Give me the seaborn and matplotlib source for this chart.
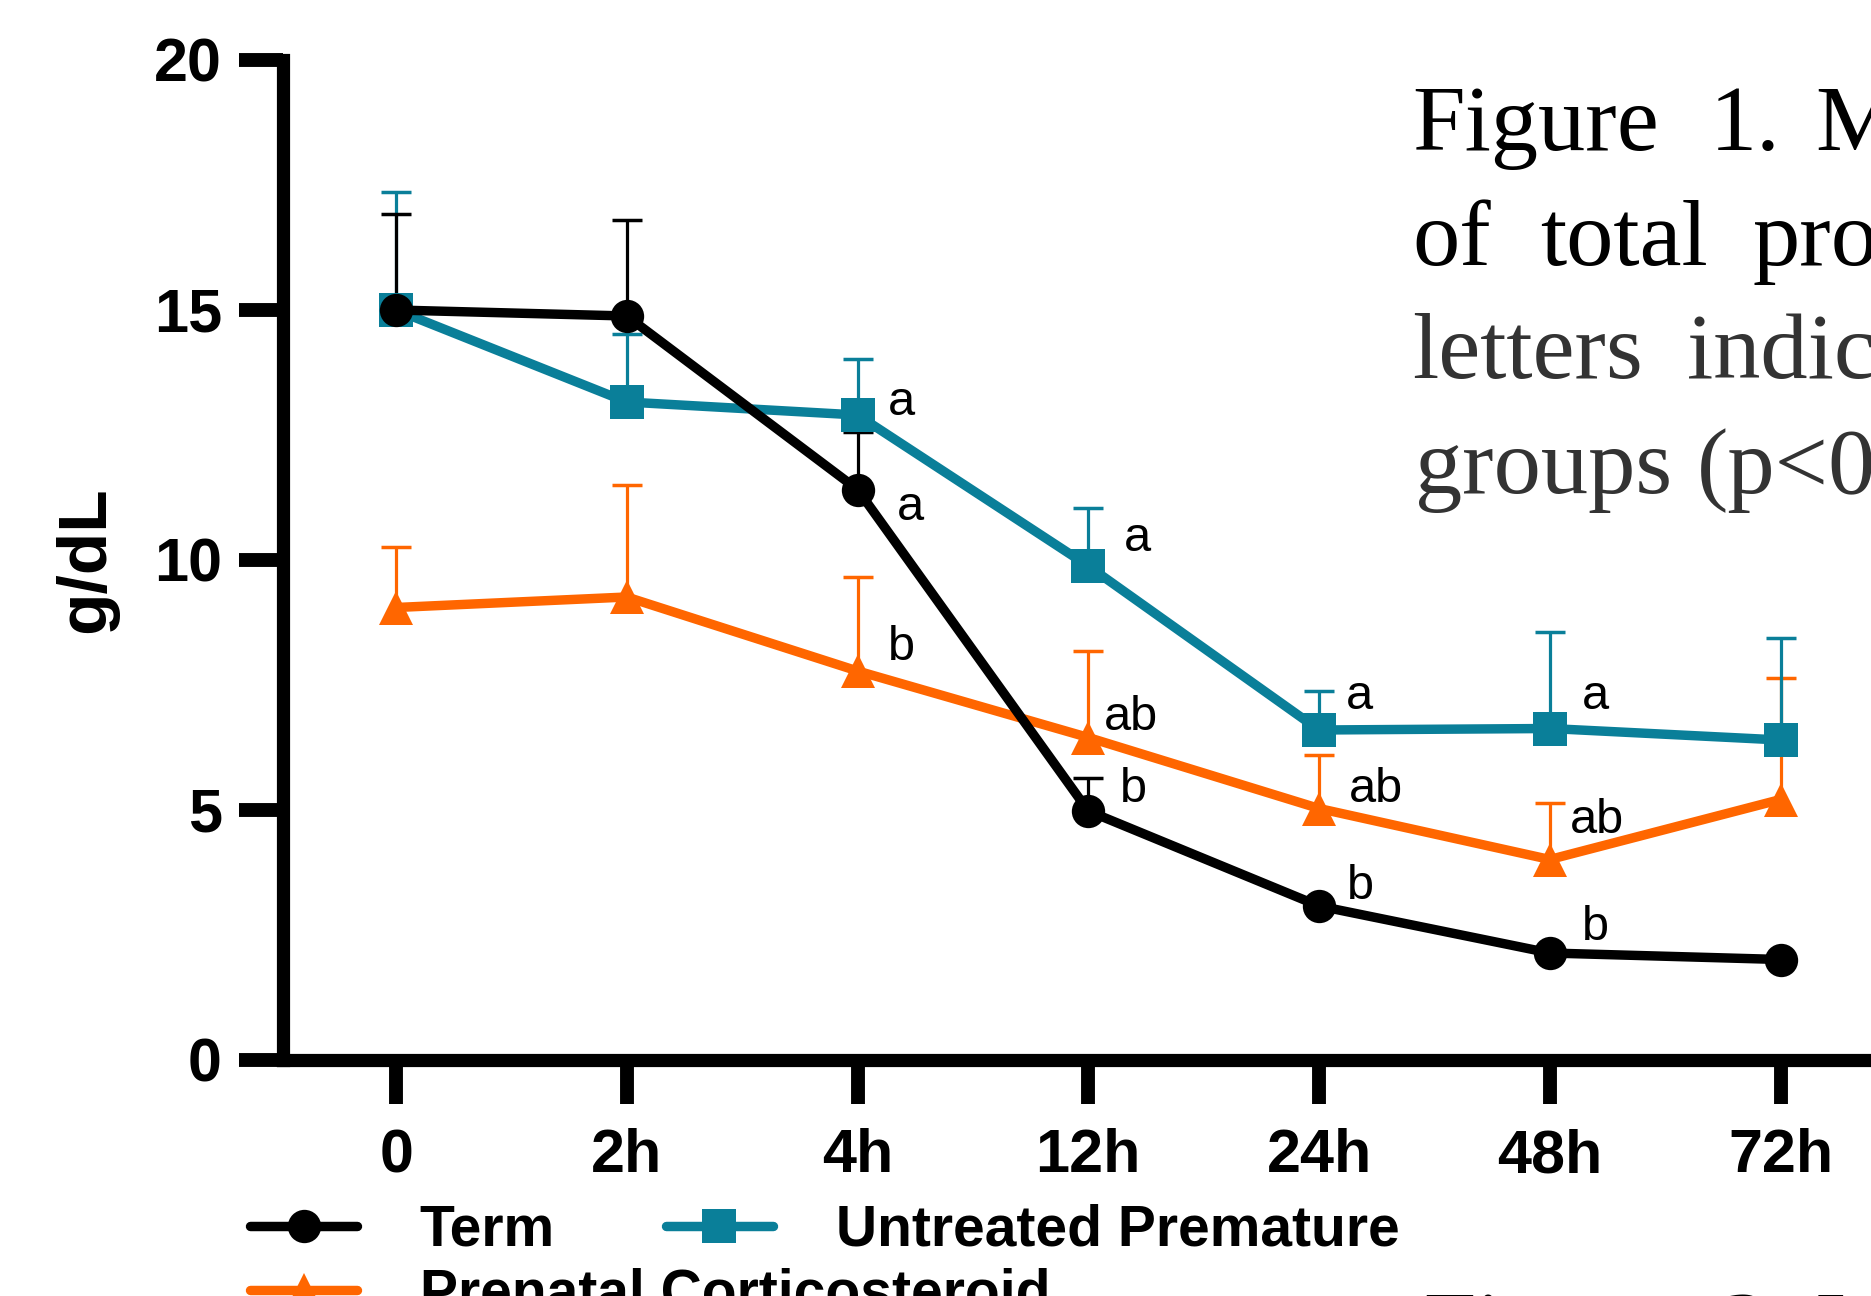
import numpy as np
import pandas as pd
import matplotlib
matplotlib.use("Agg")
import matplotlib.pyplot as plt
from matplotlib.lines import Line2D
import seaborn as sns

# Data (g/dL), mean and top of error bar
times = ["0", "2h", "4h", "12h", "24h", "48h", "72h"]

term_mean = [15.0, 14.88, 11.41, 4.98, 3.08, 2.14, 2.01]
term_upper = [16.93, 16.8, 12.57, 5.65, 3.08, 2.14, 2.01]
untreated_mean = [15.0, 13.16, 12.9, 9.88, 6.6, 6.63, 6.4]
untreated_upper = [17.37, 14.52, 14.03, 11.04, 7.38, 8.56, 8.45]
prenatal_mean = [9.05, 9.26, 7.78, 6.45, 5.03, 4.01, 5.21]
prenatal_upper = [10.26, 11.5, 9.66, 8.18, 6.1, 5.14, 7.65]

# significance letters: (time, text, label x offset, label y)
letters = [
    ("4h", "a", 0.133, 12.9), ("4h", "a", 0.172, 10.8), ("4h", "b", 0.133, 8.0),
    ("12h", "a", 0.156, 10.18), ("12h", "ab", 0.069, 6.6), ("12h", "b", 0.138, 5.16),
    ("24h", "a", 0.118, 7.02), ("24h", "ab", 0.131, 5.16), ("24h", "b", 0.122, 3.22),
    ("48h", "a", 0.137, 7.02), ("48h", "ab", 0.085, 4.54), ("48h", "b", 0.137, 2.4),
]

# drawing order: last one ends up on top
groups = ["Prenatal Corticosteroid", "Untreated Premature", "Term"]
colors = {"Term": "#000000", "Untreated Premature": "#0a7f99",
          "Prenatal Corticosteroid": "#ff6600"}
markers = {"Term": "o", "Untreated Premature": "s", "Prenatal Corticosteroid": "^"}
means = {"Term": term_mean, "Untreated Premature": untreated_mean,
         "Prenatal Corticosteroid": prenatal_mean}
uppers = {"Term": term_upper, "Untreated Premature": untreated_upper,
          "Prenatal Corticosteroid": prenatal_upper}

pos = np.arange(len(times))
df = pd.concat([
    pd.DataFrame({"pos": pos, "time": times, "value": means[g], "group": g})
    for g in groups
], ignore_index=True)

sns.set_style("ticks")
plt.rcParams["font.family"] = ["Liberation Sans", "DejaVu Sans"]
plt.rcParams.update({"axes.edgecolor": "black", "xtick.color": "black",
                     "ytick.color": "black", "text.color": "black",
                     "axes.labelcolor": "black"})

W, H = 1871, 1296
fig = plt.figure(figsize=(W / 100, H / 100), dpi=100)
ax = fig.add_axes([283 / W, (H - 1060) / H, 1636 / W, 1000 / H])

# error bars (upper side only)
for g in groups:
    m = np.array(means[g])
    up = np.array(uppers[g])
    ax.errorbar(pos, m, yerr=[np.zeros_like(m), up - m], fmt="none",
                ecolor=colors[g], elinewidth=2.3, capsize=0, zorder=1.5)
    caps = np.where(up > m, up, np.nan)
    ax.plot(pos, caps, ls="none", marker="_", ms=22, mew=2.5,
            color=colors[g], zorder=1.5)

sns.lineplot(
    data=df, x="pos", y="value", hue="group", style="group",
    hue_order=groups, style_order=groups, palette=colors,
    markers=markers, dashes=False, errorbar=None, sort=False,
    linewidth=6.8, markersize=24, markeredgewidth=0,
    legend=False, ax=ax
)

for t, txt, dx, y in letters:
    ax.text(times.index(t) + dx, y, txt, fontsize=35, ha="left", va="baseline")

ax.set_xlim(-0.49, 6.6)
ax.set_ylim(0, 20)
ax.set_xticks(pos, times)
ax.set_yticks([0, 5, 10, 15, 20])
ax.set_xlabel("")
sns.despine(ax=ax)
for side in ["left", "bottom"]:
    ax.spines[side].set_linewidth(9.5)
ax.tick_params(axis="y", width=10, length=32, labelsize=44, pad=12)
ax.tick_params(axis="x", width=10, length=32, labelsize=44, pad=17)
for lab in ax.get_xticklabels() + ax.get_yticklabels():
    lab.set_fontweight("bold")

ax.set_ylabel("g/dL", fontsize=50, fontweight="bold")
ax.yaxis.set_label_coords((118 - 283) / 1636, 0.5)

# legend, two rows like the original
def handle(g):
    return Line2D([], [], color=colors[g], lw=6.8, marker=markers[g], ms=24, mew=0)

leg_kw = dict(loc="center left", frameon=False, prop=dict(weight="bold", size=41),
              handlelength=1.88, handletextpad=1.1, columnspacing=1.95,
              borderpad=0, borderaxespad=0)
fig.legend([handle("Term"), handle("Untreated Premature")],
           ["Term", "Untreated Premature"], ncol=2,
           bbox_to_anchor=(250 / W, 1 - 1231 / H), **leg_kw)
fig.legend([handle("Prenatal Corticosteroid")], ["Prenatal Corticosteroid"],
           bbox_to_anchor=(250 / W, 1 - 1295 / H), **leg_kw)

# caption text beside the chart (cut off by the crop, as in the source)
caption = [
    (["Figure", "1.", "Mean"], [1412, 1710, 1815], 150, "#000000"),
    (["of", "total", "protein"], [1412, 1540, 1752], 265, "#000000"),
    (["letters", "indicate"], [1412, 1687], 378, "#333333"),
    (["groups", "(p<0.05)"], [1415, 1697], 493, "#333333"),
    (["Figure", "2.", "Individual"], [1423, 1722, 1815], 1356, "#000000"),
]
for words, xs, yb, col in caption:
    for w, xw in zip(words, xs):
        fig.text(xw / W, 1 - yb / H, w, fontsize=68, family="Liberation Serif",
                 color=col, ha="left", va="baseline")

plt.savefig("out.png", dpi=100)
